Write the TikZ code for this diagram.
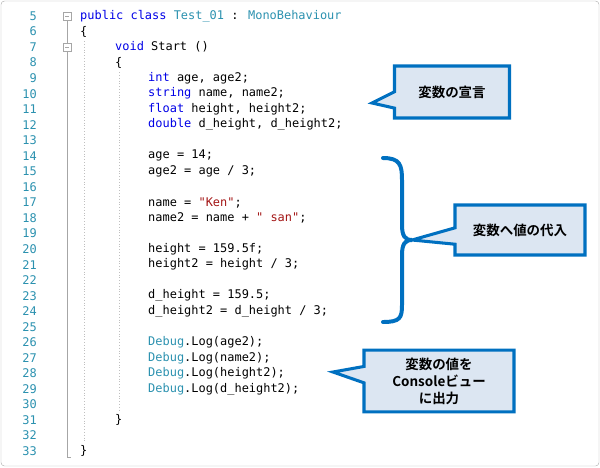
\documentclass[tikz,border=0pt]{standalone}
\usepackage{fontspec}
\newfontfamily\codefont{DejaVu Sans Mono}
\newfontfamily\jpfont{Noto Sans CJK JP}[BoldFont={Noto Sans CJK JP Bold}]
\usetikzlibrary{shapes.callouts}
\definecolor{kwblue}{RGB}{0,0,230}
\definecolor{tyteal}{RGB}{43,145,175}
\definecolor{strred}{RGB}{163,21,21}
\definecolor{boxblue}{RGB}{0,112,192}
\definecolor{boxfill}{RGB}{220,230,242}
\newcommand{\kw}[1]{\textcolor{kwblue}{#1}}
\newcommand{\ty}[1]{\textcolor{tyteal}{#1}}
\newcommand{\str}[1]{\textcolor{strred}{#1}}
\tikzset{
  lineno/.style={anchor=east,inner sep=0pt,font=\codefont\fontsize{10.2}{12}\selectfont,text=tyteal},
  code/.style={anchor=west,inner sep=0pt,font=\codefont\fontsize{10.2}{12}\selectfont},
  note/.style={rectangle callout,draw=boxblue,fill=boxfill,line width=2.6pt,
    align=center,font=\jpfont\bfseries\fontsize{11.5}{14.5}\selectfont,inner sep=0pt,
    callout pointer width=14pt}
}
\newcommand{\ly}[1]{16+15.54*(#1-5)}
\begin{document}
\begin{tikzpicture}[x=0.03cm,y=-0.03cm]
\useasboundingbox (0,0) rectangle (600,467);
\draw[gray!60,rounded corners=3pt] (1,1) rectangle (599,466);
% line numbers
\foreach \n in {5,...,33}
  \node[lineno] (n\n) at (37,{\ly{\n}}) {\n};
% folding guides
\draw[gray!70] (67,{\ly{5}+5}) -- (67,{\ly{33}+6}) -- (71,{\ly{33}+6});
\foreach \n in {5,7}{
  \draw[gray!70,fill=white] (63,{\ly{\n}-4}) rectangle (71,{\ly{\n}+4});
  \draw[gray!70] (65,{\ly{\n}}) -- (69,{\ly{\n}});
}
\draw[gray!50,dotted] (84,{\ly{7}-6}) -- (84,{\ly{32}+6});
\draw[gray!50,dotted] (119,{\ly{9}-6}) -- (119,{\ly{30}+6});
% code
\node[code] (c5) at (80,{\ly{5}}) {\kw{public} \kw{class} \ty{Test\_01} : \ty{MonoBehaviour}};
\node[code] (c6) at (80,{\ly{6}}) {\{};
\node[code] (c7) at (115,{\ly{7}}) {\kw{void} Start ()};
\node[code] (c8) at (115,{\ly{8}}) {\{};
\node[code] (c9) at (148,{\ly{9}}) {\kw{int} age, age2;};
\node[code] (c10) at (148,{\ly{10}}) {\kw{string} name, name2;};
\node[code] (c11) at (148,{\ly{11}}) {\kw{float} height, height2;};
\node[code] (c12) at (148,{\ly{12}}) {\kw{double} d\_height, d\_height2;};
\node[code] (c14) at (148,{\ly{14}}) {age = 14;};
\node[code] (c15) at (148,{\ly{15}}) {age2 = age / 3;};
\node[code] (c17) at (148,{\ly{17}}) {name = \str{"Ken"};};
\node[code] (c18) at (148,{\ly{18}}) {name2 = name + \str{" san"};};
\node[code] (c20) at (148,{\ly{20}}) {height = 159.5f;};
\node[code] (c21) at (148,{\ly{21}}) {height2 = height / 3;};
\node[code] (c23) at (148,{\ly{23}}) {d\_height = 159.5;};
\node[code] (c24) at (148,{\ly{24}}) {d\_height2 = d\_height / 3;};
\node[code] (c26) at (148,{\ly{26}}) {\ty{Debug}.Log(age2);};
\node[code] (c27) at (148,{\ly{27}}) {\ty{Debug}.Log(name2);};
\node[code] (c28) at (148,{\ly{28}}) {\ty{Debug}.Log(height2);};
\node[code] (c29) at (148,{\ly{29}}) {\ty{Debug}.Log(d\_height2);};
\node[code] (c31) at (115,{\ly{31}}) {\}};
\node[code] (c33) at (80,{\ly{33}}) {\}};
% brace
\coordinate (tip) at (412,240);
\draw[boxblue,line width=3.4pt,line cap=round]
  (383,158) .. controls (400,158) and (402,165) .. (402,180) -- (402,225)
  .. controls (402,236) and (405,240) .. (tip)
  .. controls (405,240) and (402,244) .. (402,255) -- (402,305)
  .. controls (402,318) and (400,322) .. (383,322);
% notes
\node[note,minimum width=3.45cm,minimum height=1.56cm,callout absolute pointer={(372,103)}]
  (decl) at (452,92) {変数の宣言};
\node[note,minimum width=3.9cm,minimum height=1.5cm,callout absolute pointer={(tip)}]
  (assign) at (520,230) {変数へ値の代入};
\node[note,minimum width=4.5cm,minimum height=1.85cm,callout absolute pointer={(333,372)}]
  (out) at (439,381) {変数の値を\\Consoleビュー\\に出力};
\end{tikzpicture}
\end{document}
